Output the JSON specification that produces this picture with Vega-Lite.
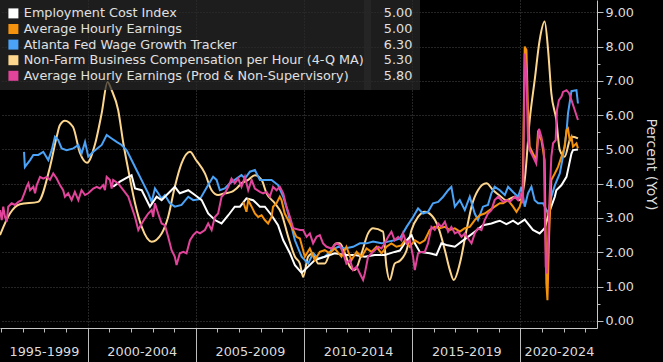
{
  "$schema": "https://vega.github.io/schema/vega-lite/v6.json",
  "width": 597,
  "height": 328,
  "autosize": {"type": "none"},
  "padding": {"left": 0, "top": 0, "right": 66, "bottom": 34},
  "background": "#000000",
  "config": {"view": {"stroke": null}, "font": "DejaVu Sans"},
  "datasets": {
    "nfb": [
      {"s":"NFB","t":1995.95,"v":2.50},{"s":"NFB","t":1996.41,"v":3.13},{"s":"NFB","t":1996.87,"v":3.40},{"s":"NFB","t":1997.71,"v":3.47},
      {"s":"NFB","t":1998.26,"v":4.49},{"s":"NFB","t":1998.57,"v":5.37},{"s":"NFB","t":1998.72,"v":5.71},{"s":"NFB","t":1998.95,"v":5.84},
      {"s":"NFB","t":1999.32,"v":5.66},{"s":"NFB","t":1999.65,"v":4.89},{"s":"NFB","t":1999.97,"v":4.61},{"s":"NFB","t":2000.34,"v":5.15},
      {"s":"NFB","t":2000.65,"v":6.06},{"s":"NFB","t":2000.92,"v":6.97},{"s":"NFB","t":2001.11,"v":6.73},{"s":"NFB","t":2001.41,"v":6.15},
      {"s":"NFB","t":2001.65,"v":5.18},{"s":"NFB","t":2001.88,"v":4.40},{"s":"NFB","t":2002.19,"v":3.43},{"s":"NFB","t":2002.50,"v":2.74},
      {"s":"NFB","t":2002.96,"v":2.31},{"s":"NFB","t":2003.42,"v":2.55},{"s":"NFB","t":2003.72,"v":3.03},{"s":"NFB","t":2004.03,"v":3.91},
      {"s":"NFB","t":2004.34,"v":4.59},{"s":"NFB","t":2004.73,"v":4.93},{"s":"NFB","t":2005.00,"v":4.70},{"s":"NFB","t":2005.42,"v":4.30},
      {"s":"NFB","t":2005.73,"v":3.81},{"s":"NFB","t":2006.03,"v":3.67},{"s":"NFB","t":2006.34,"v":3.72},{"s":"NFB","t":2006.65,"v":3.76},
      {"s":"NFB","t":2006.88,"v":3.86},{"s":"NFB","t":2007.11,"v":4.01},{"s":"NFB","t":2007.42,"v":4.11},{"s":"NFB","t":2007.73,"v":4.25},
      {"s":"NFB","t":2008.04,"v":4.11},{"s":"NFB","t":2008.27,"v":3.72},{"s":"NFB","t":2008.65,"v":3.43},{"s":"NFB","t":2008.96,"v":3.13},
      {"s":"NFB","t":2009.27,"v":2.45},{"s":"NFB","t":2009.58,"v":1.87},{"s":"NFB","t":2009.81,"v":1.67},{"s":"NFB","t":2009.96,"v":1.28},
      {"s":"NFB","t":2010.19,"v":1.87},{"s":"NFB","t":2010.42,"v":1.97},{"s":"NFB","t":2010.65,"v":1.67},{"s":"NFB","t":2010.96,"v":1.67},
      {"s":"NFB","t":2011.19,"v":1.97},{"s":"NFB","t":2011.50,"v":2.26},{"s":"NFB","t":2011.65,"v":2.26},{"s":"NFB","t":2011.89,"v":1.97},
      {"s":"NFB","t":2012.12,"v":1.58},{"s":"NFB","t":2012.35,"v":1.48},{"s":"NFB","t":2012.66,"v":1.97},{"s":"NFB","t":2012.96,"v":2.55},
      {"s":"NFB","t":2013.19,"v":2.70},{"s":"NFB","t":2013.65,"v":2.60},{"s":"NFB","t":2013.81,"v":1.58},{"s":"NFB","t":2013.96,"v":1.19},
      {"s":"NFB","t":2014.19,"v":1.67},{"s":"NFB","t":2014.43,"v":1.75},{"s":"NFB","t":2014.74,"v":2.06},{"s":"NFB","t":2014.97,"v":2.65},
      {"s":"NFB","t":2015.27,"v":3.03},{"s":"NFB","t":2015.58,"v":3.18},{"s":"NFB","t":2015.89,"v":3.08},{"s":"NFB","t":2016.20,"v":2.74},
      {"s":"NFB","t":2016.51,"v":2.06},{"s":"NFB","t":2016.74,"v":1.48},{"s":"NFB","t":2016.92,"v":1.19},{"s":"NFB","t":2017.20,"v":1.67},
      {"s":"NFB","t":2017.51,"v":2.65},{"s":"NFB","t":2017.74,"v":3.33},{"s":"NFB","t":2018.04,"v":3.81},{"s":"NFB","t":2018.43,"v":4.01},
      {"s":"NFB","t":2018.74,"v":3.81},{"s":"NFB","t":2019.05,"v":3.65},{"s":"NFB","t":2019.35,"v":3.52},{"s":"NFB","t":2019.74,"v":3.62},
      {"s":"NFB","t":2019.97,"v":3.52},{"s":"NFB","t":2020.20,"v":4.11},{"s":"NFB","t":2020.43,"v":5.86},{"s":"NFB","t":2020.66,"v":7.02},
      {"s":"NFB","t":2020.89,"v":8.19},{"s":"NFB","t":2021.12,"v":8.73},{"s":"NFB","t":2021.28,"v":7.90},{"s":"NFB","t":2021.43,"v":6.64},
      {"s":"NFB","t":2021.66,"v":5.86},{"s":"NFB","t":2021.82,"v":4.98},{"s":"NFB","t":2022.05,"v":4.79},{"s":"NFB","t":2022.28,"v":5.27},
      {"s":"NFB","t":2022.43,"v":5.37},{"s":"NFB","t":2022.66,"v":5.32}
    ],
    "main": [
      {"s":"ATL","t":1997.06,"v":4.93},{"s":"ATL","t":1997.10,"v":4.49},{"s":"ATL","t":1997.34,"v":4.69},{"s":"ATL","t":1997.49,"v":4.84},
      {"s":"ATL","t":1997.72,"v":4.84},{"s":"ATL","t":1997.95,"v":4.93},{"s":"ATL","t":1998.18,"v":4.69},{"s":"ATL","t":1998.34,"v":4.98},
      {"s":"ATL","t":1998.49,"v":5.37},{"s":"ATL","t":1998.64,"v":5.27},{"s":"ATL","t":1998.80,"v":5.03},{"s":"ATL","t":1999.03,"v":4.98},
      {"s":"ATL","t":1999.34,"v":5.03},{"s":"ATL","t":1999.57,"v":5.13},{"s":"ATL","t":1999.72,"v":4.88},{"s":"ATL","t":1999.88,"v":5.22},
      {"s":"ATL","t":2000.03,"v":4.79},{"s":"ATL","t":2000.26,"v":4.93},{"s":"ATL","t":2000.65,"v":5.13},{"s":"ATL","t":2000.88,"v":5.42},
      {"s":"ATL","t":2001.11,"v":5.32},{"s":"ATL","t":2001.34,"v":5.22},{"s":"ATL","t":2001.57,"v":5.13},{"s":"ATL","t":2001.80,"v":4.98},
      {"s":"ATL","t":2002.03,"v":4.69},{"s":"ATL","t":2002.26,"v":4.40},{"s":"ATL","t":2002.57,"v":4.01},{"s":"ATL","t":2002.80,"v":3.72},
      {"s":"ATL","t":2002.96,"v":3.47},{"s":"ATL","t":2003.11,"v":3.86},{"s":"ATL","t":2003.26,"v":3.72},{"s":"ATL","t":2003.42,"v":3.57},
      {"s":"ATL","t":2003.57,"v":3.67},{"s":"ATL","t":2003.80,"v":3.43},{"s":"ATL","t":2004.03,"v":3.33},{"s":"ATL","t":2004.34,"v":3.38},
      {"s":"ATL","t":2004.65,"v":3.62},{"s":"ATL","t":2004.88,"v":3.52},{"s":"ATL","t":2005.19,"v":3.55},{"s":"ATL","t":2005.57,"v":3.96},
      {"s":"ATL","t":2005.80,"v":4.20},{"s":"ATL","t":2005.96,"v":4.11},{"s":"ATL","t":2006.11,"v":3.81},{"s":"ATL","t":2006.34,"v":3.86},
      {"s":"ATL","t":2006.57,"v":4.01},{"s":"ATL","t":2006.80,"v":4.11},{"s":"ATL","t":2007.11,"v":4.25},{"s":"ATL","t":2007.27,"v":4.15},
      {"s":"ATL","t":2007.50,"v":4.35},{"s":"ATL","t":2007.73,"v":4.40},{"s":"ATL","t":2007.96,"v":4.11},{"s":"ATL","t":2008.19,"v":4.11},
      {"s":"ATL","t":2008.50,"v":4.11},{"s":"ATL","t":2008.80,"v":3.96},{"s":"ATL","t":2009.04,"v":3.62},{"s":"ATL","t":2009.27,"v":3.13},
      {"s":"ATL","t":2009.58,"v":2.35},{"s":"ATL","t":2009.89,"v":1.87},{"s":"ATL","t":2010.19,"v":1.67},{"s":"ATL","t":2010.42,"v":1.97},
      {"s":"ATL","t":2010.65,"v":1.82},{"s":"ATL","t":2010.96,"v":1.87},{"s":"ATL","t":2011.27,"v":2.06},{"s":"ATL","t":2011.58,"v":2.16},
      {"s":"ATL","t":2011.89,"v":2.11},{"s":"ATL","t":2012.27,"v":2.16},{"s":"ATL","t":2012.58,"v":2.26},{"s":"ATL","t":2012.89,"v":2.26},
      {"s":"ATL","t":2013.19,"v":2.31},{"s":"ATL","t":2013.58,"v":2.26},{"s":"ATL","t":2013.89,"v":2.31},{"s":"ATL","t":2014.19,"v":2.35},
      {"s":"ATL","t":2014.43,"v":2.40},{"s":"ATL","t":2014.74,"v":2.74},{"s":"ATL","t":2015.04,"v":3.03},{"s":"ATL","t":2015.27,"v":3.28},
      {"s":"ATL","t":2015.50,"v":3.13},{"s":"ATL","t":2015.73,"v":3.18},{"s":"ATL","t":2015.96,"v":3.43},{"s":"ATL","t":2016.20,"v":3.47},
      {"s":"ATL","t":2016.43,"v":3.62},{"s":"ATL","t":2016.66,"v":3.81},{"s":"ATL","t":2016.81,"v":3.91},{"s":"ATL","t":2016.97,"v":3.33},
      {"s":"ATL","t":2017.20,"v":3.52},{"s":"ATL","t":2017.43,"v":3.23},{"s":"ATL","t":2017.66,"v":3.62},{"s":"ATL","t":2017.89,"v":3.13},
      {"s":"ATL","t":2018.04,"v":2.94},{"s":"ATL","t":2018.27,"v":3.33},{"s":"ATL","t":2018.50,"v":3.38},{"s":"ATL","t":2018.66,"v":3.72},
      {"s":"ATL","t":2018.81,"v":3.91},{"s":"ATL","t":2019.05,"v":3.81},{"s":"ATL","t":2019.28,"v":3.67},{"s":"ATL","t":2019.43,"v":3.91},
      {"s":"ATL","t":2019.66,"v":3.76},{"s":"ATL","t":2019.89,"v":3.62},{"s":"ATL","t":2020.05,"v":3.91},{"s":"ATL","t":2020.20,"v":3.33},
      {"s":"ATL","t":2020.35,"v":3.72},{"s":"ATL","t":2020.51,"v":3.91},{"s":"ATL","t":2020.66,"v":3.52},{"s":"ATL","t":2020.82,"v":3.43},
      {"s":"ATL","t":2021.05,"v":3.43},{"s":"ATL","t":2021.28,"v":3.13},{"s":"ATL","t":2021.43,"v":3.62},{"s":"ATL","t":2021.59,"v":3.95},
      {"s":"ATL","t":2021.82,"v":4.30},{"s":"ATL","t":2021.97,"v":4.80},{"s":"ATL","t":2022.13,"v":5.50},{"s":"ATL","t":2022.20,"v":6.05},
      {"s":"ATL","t":2022.36,"v":6.70},{"s":"ATL","t":2022.59,"v":6.73},{"s":"ATL","t":2022.66,"v":6.34},

      {"s":"ECI","t":2001.18,"v":3.91},{"s":"ECI","t":2001.49,"v":4.06},{"s":"ECI","t":2001.88,"v":4.20},{"s":"ECI","t":2002.03,"v":4.25},
      {"s":"ECI","t":2002.19,"v":3.86},{"s":"ECI","t":2002.50,"v":3.81},{"s":"ECI","t":2002.88,"v":3.33},{"s":"ECI","t":2003.19,"v":3.62},
      {"s":"ECI","t":2003.42,"v":3.52},{"s":"ECI","t":2003.65,"v":3.67},{"s":"ECI","t":2004.03,"v":3.91},{"s":"ECI","t":2004.26,"v":3.72},
      {"s":"ECI","t":2004.65,"v":3.81},{"s":"ECI","t":2004.96,"v":3.67},{"s":"ECI","t":2005.27,"v":3.52},{"s":"ECI","t":2005.57,"v":3.13},
      {"s":"ECI","t":2005.88,"v":2.94},{"s":"ECI","t":2006.19,"v":2.84},{"s":"ECI","t":2006.50,"v":3.08},{"s":"ECI","t":2006.80,"v":3.33},
      {"s":"ECI","t":2007.04,"v":3.33},{"s":"ECI","t":2007.34,"v":3.57},{"s":"ECI","t":2007.65,"v":3.52},{"s":"ECI","t":2007.96,"v":3.33},
      {"s":"ECI","t":2008.19,"v":3.33},{"s":"ECI","t":2008.50,"v":3.08},{"s":"ECI","t":2008.80,"v":2.79},{"s":"ECI","t":2009.04,"v":2.35},
      {"s":"ECI","t":2009.35,"v":1.97},{"s":"ECI","t":2009.58,"v":1.62},{"s":"ECI","t":2009.89,"v":1.40},{"s":"ECI","t":2010.19,"v":1.58},
      {"s":"ECI","t":2010.50,"v":1.77},{"s":"ECI","t":2010.96,"v":1.87},{"s":"ECI","t":2011.42,"v":1.97},{"s":"ECI","t":2011.89,"v":1.92},
      {"s":"ECI","t":2012.35,"v":1.92},{"s":"ECI","t":2012.81,"v":1.87},{"s":"ECI","t":2013.27,"v":1.92},{"s":"ECI","t":2013.73,"v":1.92},
      {"s":"ECI","t":2014.19,"v":2.01},{"s":"ECI","t":2014.43,"v":2.05},{"s":"ECI","t":2014.74,"v":2.35},{"s":"ECI","t":2014.97,"v":2.50},
      {"s":"ECI","t":2015.12,"v":2.26},{"s":"ECI","t":2015.35,"v":2.01},{"s":"ECI","t":2015.81,"v":1.97},{"s":"ECI","t":2016.12,"v":1.92},
      {"s":"ECI","t":2016.35,"v":2.26},{"s":"ECI","t":2016.58,"v":2.21},{"s":"ECI","t":2016.97,"v":2.16},{"s":"ECI","t":2017.28,"v":2.31},
      {"s":"ECI","t":2017.58,"v":2.45},{"s":"ECI","t":2017.89,"v":2.60},{"s":"ECI","t":2018.27,"v":2.79},{"s":"ECI","t":2018.66,"v":2.84},
      {"s":"ECI","t":2018.89,"v":2.89},{"s":"ECI","t":2019.05,"v":2.92},{"s":"ECI","t":2019.35,"v":2.82},{"s":"ECI","t":2019.66,"v":2.92},
      {"s":"ECI","t":2019.89,"v":2.82},{"s":"ECI","t":2020.20,"v":2.95},{"s":"ECI","t":2020.58,"v":2.65},{"s":"ECI","t":2020.89,"v":2.55},
      {"s":"ECI","t":2021.12,"v":2.70},{"s":"ECI","t":2021.35,"v":3.20},{"s":"ECI","t":2021.59,"v":3.62},{"s":"ECI","t":2021.66,"v":3.81},
      {"s":"ECI","t":2021.90,"v":3.96},{"s":"ECI","t":2022.13,"v":4.20},{"s":"ECI","t":2022.36,"v":4.88},{"s":"ECI","t":2022.43,"v":4.98},
      {"s":"ECI","t":2022.66,"v":5.00},

      {"s":"AHE","t":2007.19,"v":3.47},{"s":"AHE","t":2007.34,"v":3.18},{"s":"AHE","t":2007.42,"v":3.52},{"s":"AHE","t":2007.58,"v":3.33},
      {"s":"AHE","t":2007.73,"v":3.13},{"s":"AHE","t":2007.88,"v":3.03},{"s":"AHE","t":2008.04,"v":3.08},{"s":"AHE","t":2008.19,"v":2.94},
      {"s":"AHE","t":2008.34,"v":2.84},{"s":"AHE","t":2008.50,"v":3.03},{"s":"AHE","t":2008.57,"v":3.33},{"s":"AHE","t":2008.73,"v":3.43},
      {"s":"AHE","t":2008.88,"v":3.62},{"s":"AHE","t":2008.96,"v":3.52},{"s":"AHE","t":2009.11,"v":3.13},{"s":"AHE","t":2009.35,"v":2.84},
      {"s":"AHE","t":2009.50,"v":2.65},{"s":"AHE","t":2009.65,"v":2.45},{"s":"AHE","t":2009.81,"v":2.40},{"s":"AHE","t":2010.04,"v":1.87},
      {"s":"AHE","t":2010.27,"v":2.11},{"s":"AHE","t":2010.50,"v":1.77},{"s":"AHE","t":2010.73,"v":2.01},{"s":"AHE","t":2010.96,"v":2.06},
      {"s":"AHE","t":2011.19,"v":1.97},{"s":"AHE","t":2011.42,"v":2.11},{"s":"AHE","t":2011.73,"v":1.87},{"s":"AHE","t":2011.96,"v":2.16},
      {"s":"AHE","t":2012.19,"v":1.77},{"s":"AHE","t":2012.43,"v":2.01},{"s":"AHE","t":2012.66,"v":1.87},{"s":"AHE","t":2012.89,"v":2.11},
      {"s":"AHE","t":2013.12,"v":2.01},{"s":"AHE","t":2013.35,"v":2.16},{"s":"AHE","t":2013.58,"v":1.97},{"s":"AHE","t":2013.81,"v":2.16},
      {"s":"AHE","t":2014.04,"v":2.26},{"s":"AHE","t":2014.27,"v":2.16},{"s":"AHE","t":2014.50,"v":2.20},{"s":"AHE","t":2014.66,"v":2.35},
      {"s":"AHE","t":2014.89,"v":2.16},{"s":"AHE","t":2015.12,"v":2.35},{"s":"AHE","t":2015.35,"v":2.26},{"s":"AHE","t":2015.58,"v":2.35},
      {"s":"AHE","t":2015.81,"v":2.65},{"s":"AHE","t":2016.04,"v":2.74},{"s":"AHE","t":2016.27,"v":2.70},{"s":"AHE","t":2016.51,"v":2.74},
      {"s":"AHE","t":2016.74,"v":2.65},{"s":"AHE","t":2016.97,"v":2.70},{"s":"AHE","t":2017.20,"v":2.60},{"s":"AHE","t":2017.43,"v":2.70},
      {"s":"AHE","t":2017.66,"v":2.74},{"s":"AHE","t":2017.89,"v":2.94},{"s":"AHE","t":2018.12,"v":3.08},{"s":"AHE","t":2018.35,"v":3.13},
      {"s":"AHE","t":2018.58,"v":3.23},{"s":"AHE","t":2018.81,"v":3.33},{"s":"AHE","t":2019.05,"v":3.43},{"s":"AHE","t":2019.20,"v":3.43},
      {"s":"AHE","t":2019.43,"v":3.52},{"s":"AHE","t":2019.66,"v":3.33},{"s":"AHE","t":2019.82,"v":3.18},{"s":"AHE","t":2019.97,"v":3.33},
      {"s":"AHE","t":2020.10,"v":3.62},{"s":"AHE","t":2020.20,"v":8.00},{"s":"AHE","t":2020.28,"v":7.90},{"s":"AHE","t":2020.35,"v":6.15},
      {"s":"AHE","t":2020.43,"v":5.08},{"s":"AHE","t":2020.58,"v":4.88},{"s":"AHE","t":2020.73,"v":4.69},{"s":"AHE","t":2020.81,"v":5.47},
      {"s":"AHE","t":2020.97,"v":5.27},{"s":"AHE","t":2021.12,"v":4.69},{"s":"AHE","t":2021.20,"v":1.09},{"s":"AHE","t":2021.25,"v":0.60},
      {"s":"AHE","t":2021.33,"v":2.55},{"s":"AHE","t":2021.43,"v":4.11},{"s":"AHE","t":2021.59,"v":4.30},{"s":"AHE","t":2021.74,"v":4.49},
      {"s":"AHE","t":2021.90,"v":4.79},{"s":"AHE","t":2022.05,"v":5.08},{"s":"AHE","t":2022.13,"v":5.56},{"s":"AHE","t":2022.20,"v":5.61},
      {"s":"AHE","t":2022.28,"v":5.27},{"s":"AHE","t":2022.36,"v":5.37},{"s":"AHE","t":2022.43,"v":5.08},{"s":"AHE","t":2022.59,"v":5.18},
      {"s":"AHE","t":2022.66,"v":5.03},

      {"s":"PNS","t":1995.95,"v":3.23},{"s":"PNS","t":1996.03,"v":2.94},{"s":"PNS","t":1996.10,"v":3.33},{"s":"PNS","t":1996.18,"v":3.03},
      {"s":"PNS","t":1996.26,"v":2.89},{"s":"PNS","t":1996.33,"v":3.33},{"s":"PNS","t":1996.49,"v":3.43},{"s":"PNS","t":1996.64,"v":3.38},
      {"s":"PNS","t":1996.80,"v":3.47},{"s":"PNS","t":1996.95,"v":3.52},{"s":"PNS","t":1997.10,"v":3.76},{"s":"PNS","t":1997.18,"v":3.91},
      {"s":"PNS","t":1997.26,"v":4.01},{"s":"PNS","t":1997.34,"v":3.81},{"s":"PNS","t":1997.49,"v":3.91},{"s":"PNS","t":1997.57,"v":3.72},
      {"s":"PNS","t":1997.65,"v":3.96},{"s":"PNS","t":1997.80,"v":4.20},{"s":"PNS","t":1997.95,"v":4.15},{"s":"PNS","t":1998.11,"v":4.20},
      {"s":"PNS","t":1998.26,"v":4.11},{"s":"PNS","t":1998.41,"v":4.30},{"s":"PNS","t":1998.57,"v":4.15},{"s":"PNS","t":1998.72,"v":3.96},
      {"s":"PNS","t":1998.87,"v":3.81},{"s":"PNS","t":1998.95,"v":3.62},{"s":"PNS","t":1999.10,"v":3.72},{"s":"PNS","t":1999.26,"v":3.52},
      {"s":"PNS","t":1999.41,"v":3.76},{"s":"PNS","t":1999.57,"v":3.52},{"s":"PNS","t":1999.72,"v":3.81},{"s":"PNS","t":1999.88,"v":3.67},
      {"s":"PNS","t":2000.03,"v":3.72},{"s":"PNS","t":2000.26,"v":3.86},{"s":"PNS","t":2000.42,"v":3.91},{"s":"PNS","t":2000.57,"v":3.86},
      {"s":"PNS","t":2000.72,"v":3.96},{"s":"PNS","t":2000.80,"v":3.81},{"s":"PNS","t":2000.88,"v":4.20},{"s":"PNS","t":2001.03,"v":4.11},
      {"s":"PNS","t":2001.11,"v":3.86},{"s":"PNS","t":2001.18,"v":4.11},{"s":"PNS","t":2001.41,"v":4.01},{"s":"PNS","t":2001.65,"v":3.81},
      {"s":"PNS","t":2001.88,"v":3.62},{"s":"PNS","t":2002.03,"v":3.33},{"s":"PNS","t":2002.19,"v":3.03},{"s":"PNS","t":2002.34,"v":2.65},
      {"s":"PNS","t":2002.50,"v":2.84},{"s":"PNS","t":2002.65,"v":2.99},{"s":"PNS","t":2002.80,"v":3.13},{"s":"PNS","t":2002.96,"v":3.23},
      {"s":"PNS","t":2003.03,"v":3.03},{"s":"PNS","t":2003.11,"v":3.43},{"s":"PNS","t":2003.26,"v":3.13},{"s":"PNS","t":2003.42,"v":2.84},
      {"s":"PNS","t":2003.57,"v":2.79},{"s":"PNS","t":2003.72,"v":2.45},{"s":"PNS","t":2003.88,"v":2.06},{"s":"PNS","t":2004.03,"v":1.87},
      {"s":"PNS","t":2004.11,"v":1.63},{"s":"PNS","t":2004.26,"v":1.97},{"s":"PNS","t":2004.42,"v":2.01},{"s":"PNS","t":2004.57,"v":1.97},
      {"s":"PNS","t":2004.73,"v":2.35},{"s":"PNS","t":2004.88,"v":2.50},{"s":"PNS","t":2005.04,"v":2.60},{"s":"PNS","t":2005.19,"v":2.55},
      {"s":"PNS","t":2005.42,"v":2.65},{"s":"PNS","t":2005.57,"v":2.84},{"s":"PNS","t":2005.73,"v":2.65},{"s":"PNS","t":2005.88,"v":3.03},
      {"s":"PNS","t":2006.03,"v":3.13},{"s":"PNS","t":2006.19,"v":3.62},{"s":"PNS","t":2006.34,"v":3.72},{"s":"PNS","t":2006.50,"v":3.91},
      {"s":"PNS","t":2006.65,"v":4.15},{"s":"PNS","t":2006.80,"v":4.01},{"s":"PNS","t":2006.96,"v":4.15},{"s":"PNS","t":2007.11,"v":3.91},
      {"s":"PNS","t":2007.27,"v":4.20},{"s":"PNS","t":2007.42,"v":3.81},{"s":"PNS","t":2007.58,"v":4.11},{"s":"PNS","t":2007.73,"v":3.86},
      {"s":"PNS","t":2007.96,"v":3.76},{"s":"PNS","t":2008.11,"v":3.72},{"s":"PNS","t":2008.27,"v":3.76},{"s":"PNS","t":2008.42,"v":3.62},
      {"s":"PNS","t":2008.57,"v":3.91},{"s":"PNS","t":2008.73,"v":3.81},{"s":"PNS","t":2008.88,"v":3.91},{"s":"PNS","t":2009.04,"v":3.72},
      {"s":"PNS","t":2009.19,"v":3.33},{"s":"PNS","t":2009.35,"v":3.03},{"s":"PNS","t":2009.50,"v":2.70},{"s":"PNS","t":2009.81,"v":2.65},
      {"s":"PNS","t":2009.96,"v":2.65},{"s":"PNS","t":2010.12,"v":2.45},{"s":"PNS","t":2010.27,"v":2.55},{"s":"PNS","t":2010.42,"v":2.26},
      {"s":"PNS","t":2010.58,"v":2.45},{"s":"PNS","t":2010.73,"v":2.50},{"s":"PNS","t":2010.88,"v":2.26},{"s":"PNS","t":2011.04,"v":2.16},
      {"s":"PNS","t":2011.27,"v":2.11},{"s":"PNS","t":2011.50,"v":2.26},{"s":"PNS","t":2011.65,"v":2.21},{"s":"PNS","t":2011.81,"v":1.97},
      {"s":"PNS","t":2011.96,"v":1.67},{"s":"PNS","t":2012.12,"v":1.77},{"s":"PNS","t":2012.27,"v":1.48},{"s":"PNS","t":2012.43,"v":1.58},
      {"s":"PNS","t":2012.58,"v":1.38},{"s":"PNS","t":2012.73,"v":1.19},{"s":"PNS","t":2012.81,"v":1.38},{"s":"PNS","t":2012.96,"v":1.87},
      {"s":"PNS","t":2013.12,"v":1.97},{"s":"PNS","t":2013.27,"v":2.06},{"s":"PNS","t":2013.42,"v":2.16},{"s":"PNS","t":2013.58,"v":2.11},
      {"s":"PNS","t":2013.73,"v":2.26},{"s":"PNS","t":2013.89,"v":2.45},{"s":"PNS","t":2014.04,"v":2.60},{"s":"PNS","t":2014.19,"v":2.35},
      {"s":"PNS","t":2014.35,"v":2.45},{"s":"PNS","t":2014.50,"v":2.35},{"s":"PNS","t":2014.58,"v":2.55},{"s":"PNS","t":2014.74,"v":2.26},
      {"s":"PNS","t":2014.89,"v":2.35},{"s":"PNS","t":2015.04,"v":1.87},{"s":"PNS","t":2015.12,"v":1.48},{"s":"PNS","t":2015.27,"v":1.97},
      {"s":"PNS","t":2015.43,"v":2.01},{"s":"PNS","t":2015.58,"v":2.01},{"s":"PNS","t":2015.73,"v":2.26},{"s":"PNS","t":2015.89,"v":2.74},
      {"s":"PNS","t":2016.04,"v":2.65},{"s":"PNS","t":2016.20,"v":2.84},{"s":"PNS","t":2016.35,"v":2.74},{"s":"PNS","t":2016.51,"v":2.89},
      {"s":"PNS","t":2016.66,"v":2.60},{"s":"PNS","t":2016.81,"v":2.74},{"s":"PNS","t":2016.97,"v":2.55},{"s":"PNS","t":2017.12,"v":2.60},
      {"s":"PNS","t":2017.28,"v":2.45},{"s":"PNS","t":2017.43,"v":2.55},{"s":"PNS","t":2017.58,"v":2.40},{"s":"PNS","t":2017.74,"v":2.26},
      {"s":"PNS","t":2017.89,"v":2.55},{"s":"PNS","t":2018.04,"v":2.70},{"s":"PNS","t":2018.20,"v":2.65},{"s":"PNS","t":2018.35,"v":2.94},
      {"s":"PNS","t":2018.50,"v":3.13},{"s":"PNS","t":2018.66,"v":3.23},{"s":"PNS","t":2018.81,"v":3.52},{"s":"PNS","t":2018.97,"v":3.62},
      {"s":"PNS","t":2019.20,"v":3.47},{"s":"PNS","t":2019.35,"v":3.52},{"s":"PNS","t":2019.51,"v":3.47},{"s":"PNS","t":2019.74,"v":3.62},
      {"s":"PNS","t":2019.89,"v":3.52},{"s":"PNS","t":2020.00,"v":3.67},{"s":"PNS","t":2020.12,"v":3.43},{"s":"PNS","t":2020.20,"v":7.80},
      {"s":"PNS","t":2020.28,"v":7.12},{"s":"PNS","t":2020.35,"v":5.27},{"s":"PNS","t":2020.43,"v":4.98},{"s":"PNS","t":2020.58,"v":4.79},
      {"s":"PNS","t":2020.73,"v":4.59},{"s":"PNS","t":2020.86,"v":5.60},{"s":"PNS","t":2020.97,"v":5.37},{"s":"PNS","t":2021.08,"v":4.98},
      {"s":"PNS","t":2021.17,"v":1.58},{"s":"PNS","t":2021.23,"v":1.38},{"s":"PNS","t":2021.33,"v":3.33},{"s":"PNS","t":2021.43,"v":4.79},
      {"s":"PNS","t":2021.51,"v":5.18},{"s":"PNS","t":2021.63,"v":5.27},{"s":"PNS","t":2021.69,"v":6.15},{"s":"PNS","t":2021.78,"v":6.44},
      {"s":"PNS","t":2021.90,"v":6.54},{"s":"PNS","t":2021.97,"v":6.68},{"s":"PNS","t":2022.13,"v":6.73},{"s":"PNS","t":2022.25,"v":6.64},
      {"s":"PNS","t":2022.36,"v":6.44},{"s":"PNS","t":2022.51,"v":6.15},{"s":"PNS","t":2022.66,"v":5.86}
    ]
  },
  "layer": [
    {
      "encoding": {
        "x": {
          "field": "t", "type": "quantitative",
          "scale": {"domain": [1995.95, 2023.54], "nice": false, "zero": false},
          "axis": {
            "title": null,
            "values": [1996,1997,1998,1999,2000,2001,2002,2003,2004,2005,2006,2007,2008,2009,2010,2011,2012,2013,2014,2015,2016,2017,2018,2019,2020,2021,2022,2023,1997.98,2002.5,2007.5,2012.5,2017.5,2021.78],
            "labelExpr": "datum.value % 1 == 0 ? '' : (1995 + 5 * floor((datum.value - 1995) / 5)) + '-' + (1999 + 5 * floor((datum.value - 1995) / 5))",
            "tickSize": {"condition": {"test": "datum.value % 5 == 0", "value": 34}, "value": 4},
            "tickOpacity": {"condition": {"test": "datum.value % 1 != 0", "value": 0}, "value": 1},
            "tickColor": "#bdbdbd",
            "domainColor": "#c8c8c8",
            "grid": true,
            "gridOpacity": {"condition": {"test": "datum.value % 5 == 0", "value": 1}, "value": 0},
            "gridColor": "#4a4a4a",
            "gridDash": [1, 2],
            "labelPadding": 13,
            "labelFont": "DejaVu Sans",
            "labelFontSize": 12.8,
            "labelColor": "#dcdcdc",
            "labelOverlap": false,
            "labelBound": false,
            "labelFlush": false
          }
        },
        "y": {
          "field": "v", "type": "quantitative",
          "scale": {"domain": [-0.21, 9.36], "nice": false, "zero": false},
          "axis": {
            "orient": "right",
            "title": "Percent (YoY)",
            "values": [0,0.5,1,1.5,2,2.5,3,3.5,4,4.5,5,5.5,6,6.5,7,7.5,8,8.5,9],
            "labelExpr": "datum.value % 1 == 0 ? format(datum.value, '.2f') : ''",
            "tickSize": {"condition": {"test": "datum.value % 1 == 0", "value": 6}, "value": 3},
            "tickColor": "#bdbdbd",
            "domainColor": "#c8c8c8",
            "labelPadding": 2,
            "grid": true,
            "gridOpacity": {"condition": {"test": "datum.value % 1 == 0", "value": 1}, "value": 0},
            "gridColor": "#4a4a4a",
            "gridDash": [1, 2],
            "labelFont": "DejaVu Sans",
            "labelFontSize": 12.8,
            "labelColor": "#dcdcdc",
            "labelOverlap": false,
            "labelBound": false,
            "labelFlush": false,
            "titleFont": "DejaVu Sans",
            "titleFontSize": 14,
            "titleFontWeight": "normal",
            "titleColor": "#dcdcdc",
            "titlePadding": 10
          }
        },
        "stroke": {
          "field": "s", "type": "nominal",
          "scale": {"domain": ["NFB","ATL","ECI","AHE","PNS"], "range": ["#fdd68e","#4ba3f7","#ffffff","#f5930e","#e2449b"]},
          "legend": null
        }
      },
      "layer": [
        {"data": {"name": "nfb"}, "mark": {"type": "line", "interpolate": "monotone", "strokeWidth": 2}},
        {"data": {"name": "main"}, "mark": {"type": "line", "strokeWidth": 2}}
      ]
    },
    {
      "data": {"values": []},
      "mark": {"type": "square", "filled": true},
      "encoding": {
        "color": {
          "field": "s", "type": "nominal",
          "scale": {"domain": ["ECI","AHE","ATL","NFB","PNS"], "range": ["#ffffff","#f5930e","#4ba3f7","#fdd68e","#e2449b"]},
          "legend": {
            "orient": "top-left",
            "offset": 0,
            "title": null,
            "padding": 7,
            "fillColor": "rgba(40,40,40,0.72)",
            "symbolType": "square",
            "symbolSize": 100,
            "symbolStrokeWidth": 0,
            "symbolOpacity": 1,
            "labelFont": "DejaVu Sans",
            "labelFontSize": 12.8,
            "labelColor": "#e0e0e0",
            "labelLimit": 500,
            "labelOffset": 4,
            "rowPadding": 1.6,
            "labelExpr": "datum.label == 'ECI' ? 'Employment Cost Index' : datum.label == 'AHE' ? 'Average Hourly Earnings' : datum.label == 'ATL' ? 'Atlanta Fed Wage Growth Tracker' : datum.label == 'NFB' ? 'Non-Farm Business Compensation per Hour (4-Q MA)' : 'Average Hourly Earnings (Prod & Non-Supervisory)'"
          }
        }
      }
    },
    {
      "data": {"values": []},
      "mark": {"type": "point", "opacity": 0},
      "encoding": {
        "shape": {
          "field": "k", "type": "nominal",
          "scale": {"domain": ["k1","k2","k3","k4","k5"]},
          "legend": {
            "orient": "none",
            "legendX": 364,
            "legendY": 0,
            "title": null,
            "padding": 7,
            "fillColor": "rgba(40,40,40,0.72)",
            "symbolSize": 1,
            "symbolOpacity": 0,
            "symbolStrokeWidth": 0,
            "labelOffset": 0,
            "labelFont": "DejaVu Sans",
            "labelFontSize": 12.8,
            "labelColor": "#e0e0e0",
            "rowPadding": 1.6,
            "labelExpr": "datum.label == 'k1' ? '5.00' : datum.label == 'k2' ? '5.00' : datum.label == 'k3' ? '6.30' : datum.label == 'k4' ? '5.30' : '5.80'"
          }
        }
      }
    }
  ]
}
